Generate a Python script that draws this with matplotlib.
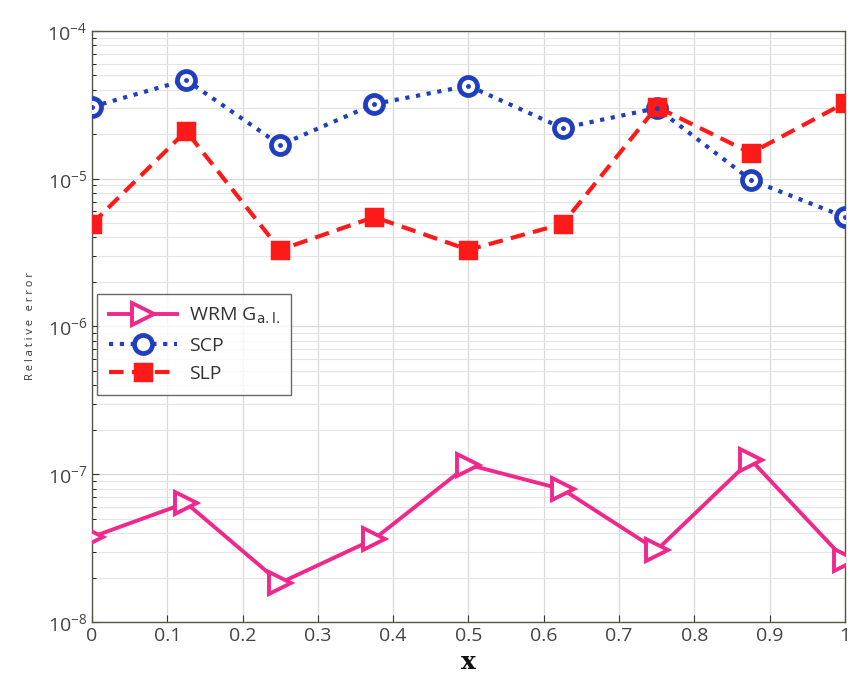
import matplotlib
matplotlib.use("Agg")
import matplotlib.pyplot as plt
import numpy as np

x = [0, 0.125, 0.25, 0.375, 0.5, 0.625, 0.75, 0.875, 1.0]
wrm = [3.76e-8, 6.4e-8, 1.84e-8, 3.65e-8, 1.16e-7, 7.9e-8, 3.07e-8, 1.25e-7, 2.63e-8]
scp = [3.06e-5, 4.66e-5, 1.69e-5, 3.2e-5, 4.25e-5, 2.2e-5, 3.0e-5, 9.8e-6, 5.5e-6]
slp = [4.94e-6, 2.1e-5, 3.3e-6, 5.5e-6, 3.3e-6, 4.94e-6, 3.06e-5, 1.49e-5, 3.26e-5]
xticks = [0, 0.1, 0.2, 0.3, 0.4, 0.5, 0.6, 0.7, 0.8, 0.9, 1]
xticklabels = ["0", "0.1", "0.2", "0.3", "0.4", "0.5", "0.6", "0.7", "0.8", "0.9", "1"]

plt.rcParams['font.family'] = ['Open Sans', 'DejaVu Sans']

fig = plt.figure(figsize=(8.51, 6.89), dpi=100)
ax = fig.add_axes([0.108, 0.0972, 0.885, 0.858])

ax.plot(x, wrm, color='#f0288c', lw=2.8, marker='>', ms=16, mfc='white', mew=2.8,
        label=r'WRM G$_{\mathrm{a.l.}}$', zorder=3)
ax.plot(x, scp, color='#1f3fbf', lw=3, ls=(0, (1, 1.6)), marker='o', ms=13, mfc='white', mew=3.4,
        label='SCP', zorder=3)
ax.plot(x, scp, ls='none', marker='o', ms=2.5, color='#1f3fbf', zorder=4)
ax.plot(x, slp, color='#ff1a1a', lw=3, ls=(0, (3.5, 2)), marker='s', ms=12, mfc='#ff1a1a', mew=2.5,
        label='SLP', zorder=3)

ax.set_yscale('log')
ax.set_ylim(1e-8, 1e-4)
ax.set_xlim(0, 1)
ax.set_xticks(xticks)
ax.set_xticklabels(xticklabels)
ax.grid(True, which='major', color='#d9d9d9', lw=0.9)
ax.grid(True, which='minor', axis='y', color='#e4e4e4', lw=0.8)
ax.tick_params(axis='both', which='major', labelsize=14, color='#333333', direction='in', length=5,
               labelcolor='#444444')
ax.tick_params(axis='y', which='minor', direction='in', length=3)
for s in ax.spines.values():
    s.set_color('#555544')
    s.set_linewidth(1.0)

ax.set_ylabel('R e l a t i v e   e r r o r', fontsize=8, color='#333333', labelpad=8)
ax.set_xlabel('x', fontsize=18, family='DejaVu Serif', fontweight='bold', color='#111111', labelpad=4)

leg = ax.legend(loc='upper left', bbox_to_anchor=(0.007, 0.555), fontsize=14, frameon=True,
                fancybox=False, edgecolor='#444444', handlelength=3.5, borderpad=0.6,
                labelspacing=0.55, handletextpad=0.6, borderaxespad=0)
for t in leg.get_texts():
    t.set_color('#333333')

fig.savefig('out.png', dpi=100)
